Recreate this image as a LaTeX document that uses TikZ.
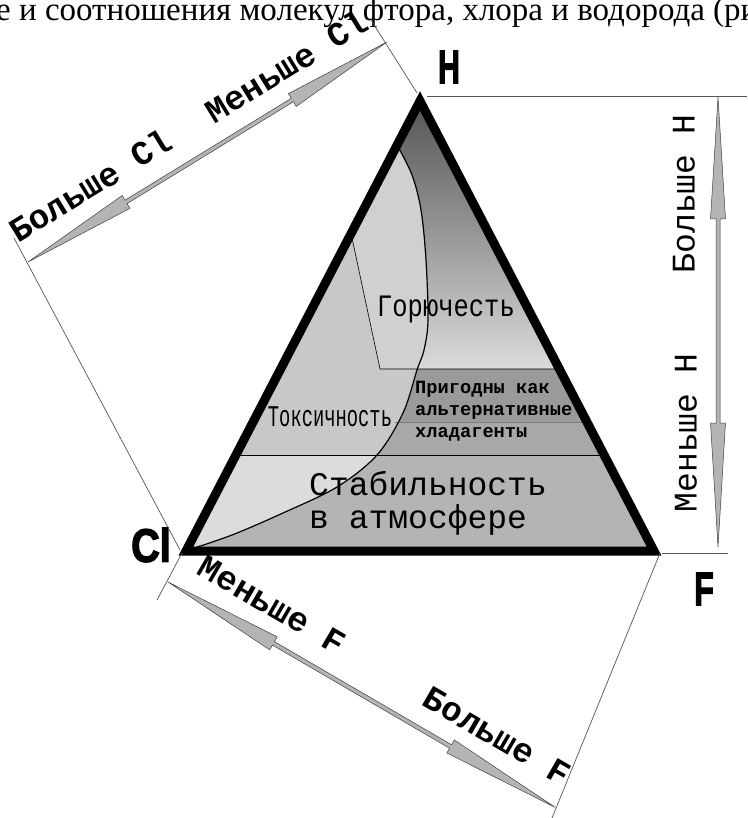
\documentclass[tikz,border=0pt]{standalone}
\usepackage{fontspec}
\usepackage{graphicx}
\setmainfont{Liberation Serif}
\newfontfamily\monofam{Liberation Mono}
\newfontfamily\sansfam{Liberation Sans}
\newfontfamily\heavyfam[BoldFeatures={FakeBold=3}]{Liberation Sans}
\definecolor{arrowgray}{HTML}{B4B4B4}
\definecolor{arrowedge}{HTML}{404040}
\definecolor{extgray}{HTML}{555555}
\definecolor{lefttop}{HTML}{C8C8C8}
\definecolor{leftmid}{HTML}{D0D0D0}
\definecolor{leftbot}{HTML}{DCDCDC}
\definecolor{bandA}{HTML}{9A9A9A}
\definecolor{bandB}{HTML}{A8A8A8}
\definecolor{rightbot}{HTML}{B4B4B4}
\newcommand\spikepoly[3]{%
  \filldraw[spikearrow] (0,0) -- (#2,7.5) -- (#2,2) -- ({#1-#3},2) -- ({#1-#3},7.5) -- (#1,0)
    -- ({#1-#3},-7.5) -- ({#1-#3},-2) -- (#2,-2) -- (#2,-7.5) -- cycle;}
\tikzset{
  spikearrow/.style={fill=arrowgray, draw=arrowedge, line width=0.5pt, line join=miter},
  extline/.style={draw=extgray, line width=0.7pt},
  sidelbl/.style={font=\monofam\bfseries\fontsize{34}{40}\selectfont, inner sep=0pt},
  vertlbl/.style={font=\monofam\fontsize{33}{40}\selectfont, inner sep=0pt},
  vtxlbl/.style={font=\heavyfam\bfseries\fontsize{36}{40}\selectfont, inner sep=0pt},
  boxtxt/.style={inner sep=0pt},
  thinsep/.style={draw=black, line width=0.6pt},
  fainsep/.style={draw=gray, line width=0.5pt},
}
\begin{document}
\begin{tikzpicture}[x=1pt, y=-1pt]
\useasboundingbox (0,0) rectangle (747,818);
\fill[white] (0,0) rectangle (747,818);

% top caption line
\node[anchor=base west, inner sep=0pt, font=\fontsize{33}{38}\selectfont] (cap) at (-4,20.5)
  {е и соотношения молекул фтора, хлора и водорода (рис};

% vertices
\coordinate (A) at (420,101);
\coordinate (B) at (186,551);
\coordinate (C) at (654,551);

% interior
\begin{scope}
  \clip (A) -- (B) -- (C) -- cycle;
  \fill[lefttop] (A) -- (B) -- (C) -- cycle;
  \fill[leftbot] (150,455) rectangle (700,600);
  \fill[leftmid] (352,238) -- (380,369) -- (480,369) -- (480,120) -- (340,120) -- cycle;
  \begin{scope}
    \clip plot[smooth, tension=0.55] coordinates {(397,145) (412,175) (421,210) (426,260) (428,320) (424,350) (417,370) (403,413) (377,455) (337,487) (283,513) (232,535) (188,550)}
      -- (180,600) -- (800,600) -- (800,40) -- (380,40) -- cycle;
    \shade[top color=black!68, middle color=black!42, bottom color=black!14] (350,95) rectangle (700,369);
    \fill[bandA] (350,369) rectangle (700,422);
    \fill[bandB] (350,422) rectangle (700,455);
    \fill[rightbot] (150,455) rectangle (700,600);
  \end{scope}
  \draw[thinsep] (352,238) -- (380,369) -- (600,369);
  \draw[fainsep] (395,422) -- (600,422);
  \draw[thinsep] (150,455) -- (700,455);
  \draw[black, line width=1.2pt] plot[smooth, tension=0.55] coordinates {(397,145) (412,175) (421,210) (426,260) (428,320) (424,350) (417,370) (403,413) (377,455) (337,487) (283,513) (232,535) (188,550)};
\end{scope}
\draw[line width=9pt, line join=miter] (A) -- (B) -- (C) -- cycle;

% interior texts
\node[boxtxt, font=\monofam\fontsize{25.5}{30}\selectfont] (gor) at (446,309) {\scalebox{1}[1.22]{Горючесть}};
\node[boxtxt, font=\monofam\fontsize{18.8}{22}\selectfont] (tox) at (330,417) {\scalebox{1}[1.6]{Токсичность}};
\node[boxtxt, anchor=base west, font=\monofam\bfseries\fontsize{18.7}{22}\selectfont] (alt1) at (415,393) {Пригодны как};
\node[boxtxt, anchor=base west, font=\monofam\bfseries\fontsize{18.7}{22}\selectfont] (alt2) at (415,415) {альтернативные};
\node[boxtxt, anchor=base west, font=\monofam\bfseries\fontsize{18.7}{22}\selectfont] (alt3) at (415,437) {хладагенты};
\node[boxtxt, anchor=base west, font=\monofam\fontsize{33}{38}\selectfont] (stab1) at (309,495) {Стабильность};
\node[boxtxt, anchor=base west, font=\monofam\fontsize{33}{38}\selectfont] (stab2) at (309,528) {в атмосфере};

% vertex labels
\node[vtxlbl] (lH) at (449,67) {\scalebox{0.85}[1.3]{H}};
\node[vtxlbl] (lCl) at (151,545) {\scalebox{1.1}[1.3]{Cl}};
\node[vtxlbl] (lF) at (704,589) {\scalebox{0.9}[1.3]{F}};

% extension lines
\coordinate (hR) at (747,96.5);
\coordinate (hL) at (427,96.5);
\coordinate (fL) at (662,553);
\coordinate (fR) at (728,553);
\coordinate (aUp) at (417,93);
\coordinate (aUpEnd) at (371,20);
\coordinate (clU) at (180,550);
\coordinate (clUEnd) at (14,238);
\coordinate (clD) at (182,553);
\coordinate (clDEnd) at (157,600);
\coordinate (fD) at (660,553);
\coordinate (fDEnd) at (552,818);
\draw[extline] (hL) -- (hR);
\draw[extline] (fL) -- (fR);
\draw[extline] (aUp) -- (aUpEnd);
\draw[extline] (clU) -- (clUEnd);
\draw[extline] (clD) -- (clDEnd);
\draw[extline] (fD) -- (fDEnd);

% spike arrows
\begin{scope}[shift={(718,97)}, rotate=-90] \spikepoly{450}{122}{124} \end{scope}
\begin{scope}[shift={(28,262)}, rotate=31.5] \spikepoly{421}{115}{111} \end{scope}
\begin{scope}[shift={(168,582)}, rotate=-30.2] \spikepoly{448}{122}{121} \end{scope}

% side labels
\node[sidelbl, rotate=31.5] (bCl) at (90,185) {Больше Cl};
\node[sidelbl, rotate=31.5] (mCl) at (286,66) {Меньше Cl};
\node[sidelbl, rotate=-30.2] (mF) at (272,605) {Меньше F};
\node[sidelbl, rotate=-30.2] (bF) at (497,736) {Больше F};
\node[vertlbl, rotate=90] (bH) at (684,194) {Больше H};
\node[vertlbl, rotate=90] (mH) at (686,433) {Меньше H};
\end{tikzpicture}
\end{document}
